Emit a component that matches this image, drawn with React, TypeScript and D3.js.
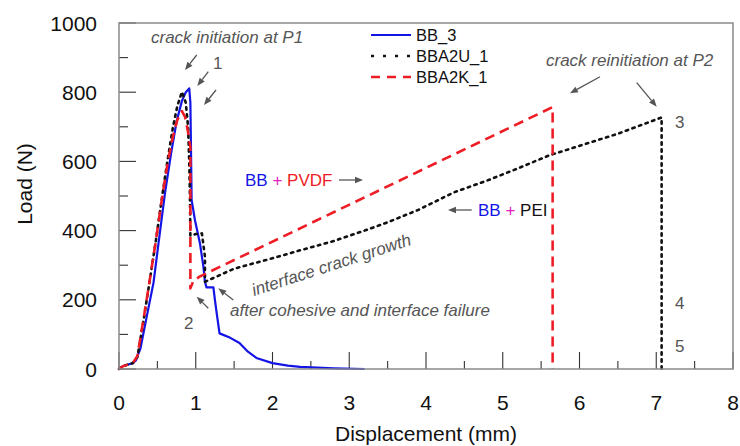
import React from "react";
import * as d3 from "d3";

interface Pt {
  x: number;
  y: number;
}

// displacement (mm), load (N)
const bb3: [number, number][] = [
  [0, 0], [0.05, 8], [0.12, 13], [0.18, 17], [0.22, 25], [0.28, 60], [0.36, 150],
  [0.45, 250], [0.53, 390], [0.6, 510], [0.68, 625], [0.75, 715], [0.82, 775],
  [0.87, 800], [0.915, 811], [0.93, 770], [0.94, 600], [0.946, 489], [0.99, 430],
  [1.055, 363], [1.1, 295], [1.12, 252], [1.14, 236], [1.23, 236], [1.25, 199],
  [1.28, 150], [1.31, 103], [1.45, 90], [1.57, 75], [1.68, 50], [1.79, 32],
  [2.0, 17], [2.2, 10], [2.36, 6], [2.8, 2], [3.2, 0],
];

const bba2u1: [number, number][] = [
  [0, 0], [0.05, 8], [0.12, 13], [0.18, 17], [0.24, 35], [0.32, 140], [0.4, 255],
  [0.48, 370], [0.55, 480], [0.63, 600], [0.7, 695], [0.76, 760], [0.82, 801],
  [0.87, 770], [0.9, 700], [0.915, 600], [0.925, 490], [0.93, 385], [1.0, 390],
  [1.08, 392], [1.12, 324], [1.12, 252], [1.5, 290], [2.0, 320], [2.36, 343],
  [2.8, 370], [3.2, 400], [3.5, 424], [3.9, 460], [4.37, 511], [4.8, 545],
  [5.2, 580], [5.6, 617], [6.0, 645], [6.5, 680], [7.07, 727], [7.07, 0],
];

const bba2k1: [number, number][] = [
  [0, 0], [0.05, 8], [0.12, 13], [0.18, 17], [0.24, 38], [0.32, 145], [0.4, 256],
  [0.48, 370], [0.55, 478], [0.63, 590], [0.7, 670], [0.76, 720], [0.82, 745],
  [0.86, 729], [0.9, 685], [0.93, 640], [0.93, 233], [0.97, 255], [1.05, 267],
  [5.65, 757], [5.65, 0],
];

const xTicks = [0, 1, 2, 3, 4, 5, 6, 7, 8];
const yTicks = [0, 200, 400, 600, 800, 1000];
const xMinor = d3.range(0, 8.01, 0.5);
const yMinor = d3.range(0, 1001, 100);

const seriesNames = ["BB_3", "BBA2U_1", "BBA2K_1"];
const seriesColors = ["#1414e6", "#111111", "#ee1c25"];
const seriesDash = ["none", "2.4 4.6", "10 6"];

const W = 740;
const H = 446;
const m = { left: 119, right: 7, top: 23, bottom: 77 };

const gray = "#555555";
const annoFont = "Liberation Sans, Arial, sans-serif";

const Arrow: React.FC<{ x1: number; y1: number; x2: number; y2: number }> = ({ x1, y1, x2, y2 }) => {
  const a = Math.atan2(y2 - y1, x2 - x1);
  const L = 8;
  const hw = 3.2;
  const bx = x2 - L * Math.cos(a);
  const by = y2 - L * Math.sin(a);
  const px = -Math.sin(a) * hw;
  const py = Math.cos(a) * hw;
  return (
    <g>
      <line x1={x1} y1={y1} x2={bx} y2={by} stroke={gray} strokeWidth={1.3} />
      <path d={`M${x2},${y2}L${bx + px},${by + py}L${bx - px},${by - py}Z`} fill={gray} />
    </g>
  );
};

export default function App() {
  const x = d3.scaleLinear().domain([0, 8]).range([m.left, W - m.right]);
  const y = d3.scaleLinear().domain([0, 1000]).range([H - m.bottom, m.top]);

  const line = d3
    .line<Pt>()
    .x((d) => x(d.x))
    .y((d) => y(d.y));

  const toPts = (arr: [number, number][]) => arr.map(([a, b]) => ({ x: a, y: b }));
  const series = [bb3, bba2u1, bba2k1].map(toPts);
  const drawOrder = [0, 1, 2];

  const x0 = x(0);
  const x1 = x(8);
  const yb = y(0);
  const yt = y(1000);

  return (
    <svg
      width={W}
      height={H}
      style={{ position: "absolute", left: 0, top: 0, background: "#fff" }}
      fontFamily="Liberation Sans, Arial, sans-serif"
    >
      {/* ticks, pointing inward */}
      {xMinor.map((t) => {
        const major = Math.abs(t - Math.round(t)) < 1e-6;
        return (
          <line key={"xt" + t} x1={x(t)} x2={x(t)} y1={yb} y2={yb - (major ? 17 : 8)} stroke="#333" strokeWidth={1.1} />
        );
      })}
      {yMinor.map((t) => {
        const major = t % 200 === 0;
        return (
          <line key={"yt" + t} x1={x0} x2={x0 + (major ? 17 : 9)} y1={y(t)} y2={y(t)} stroke="#333" strokeWidth={1.1} />
        );
      })}

      {/* curves */}
      {drawOrder.map((i) => (
        <path
          key={seriesNames[i]}
          d={line(series[i]) || ""}
          fill="none"
          stroke={seriesColors[i]}
          strokeWidth={i === 0 ? 2.2 : 2.6}
          strokeDasharray={seriesDash[i]}
          strokeLinecap={i === 1 ? "round" : "butt"}
          strokeLinejoin="round"
        />
      ))}

      {/* frame */}
      <rect x={x0} y={yt} width={x1 - x0} height={yb - yt} fill="none" stroke="#8a8a8a" strokeWidth={1.5} />

      {/* tick labels */}
      {xTicks.map((t) => (
        <text key={"xl" + t} x={x(t)} y={402} textAnchor="middle" dominantBaseline="central" fontSize={21} fill="#111">
          {t}
        </text>
      ))}
      {yTicks.map((t) => (
        <text key={"yl" + t} x={97} y={y(t)} textAnchor="end" dominantBaseline="central" fontSize={21} fill="#111">
          {t}
        </text>
      ))}

      {/* axis titles */}
      <text x={(x0 + x1) / 2} y={433} textAnchor="middle" dominantBaseline="central" fontSize={21} fill="#111">
        Displacement (mm)
      </text>
      <text
        transform={`translate(24,${(yt + yb) / 2 - 12}) rotate(-90)`}
        textAnchor="middle"
        dominantBaseline="central"
        fontSize={21}
        fill="#111"
      >
        Load (N)
      </text>

      {/* legend */}
      {seriesNames.map((n, i) => (
        <g key={"lg" + n} transform={`translate(0,${35 + i * 21})`}>
          <line
            x1={371}
            x2={411}
            y1={0}
            y2={0}
            stroke={seriesColors[i]}
            strokeWidth={i === 0 ? 2 : 2.4}
            strokeDasharray={i === 0 ? "none" : i === 1 ? "3 9" : "9 7"}
          />
          <text x={416} y={0} dominantBaseline="central" fontSize={16.5} fill="#111">
            {n}
          </text>
        </g>
      ))}

      {/* annotations */}
      <g fontFamily={annoFont} fontStyle="italic" fill={gray} fontSize={17}>
        <text x={151} y={43}>crack initiation at P1</text>
        <text x={546} y={66}>crack reinitiation at P2</text>
        <text x={230} y={316}>after cohesive and interface failure</text>
        <text transform={`translate(254,296) rotate(-18)`}>interface crack growth</text>
      </g>
      <g fontFamily={annoFont} fill={gray} fontSize={17} dominantBaseline="central">
        <text x={213} y={63}>1</text>
        <text x={184} y={323}>2</text>
        <text x={675} y={122}>3</text>
        <text x={675} y={303}>4</text>
        <text x={675} y={346}>5</text>
      </g>
      <Arrow x1={196.7} y1={55} x2={185} y2={70} />
      <Arrow x1={208.3} y1={71.7} x2={197.3} y2={86} />
      <Arrow x1={216} y1={90} x2={204} y2={105} />
      <Arrow x1={600} y1={76.7} x2={570} y2={93.3} />
      <Arrow x1={636.7} y1={82.7} x2={656.7} y2={106.7} />
      <Arrow x1={208.3} y1={308.3} x2={196.7} y2={296.7} />
      <Arrow x1={233.3} y1={300} x2={218.3} y2={288.3} />
      <Arrow x1={339} y1={180} x2={363} y2={180} />
      <Arrow x1={471.7} y1={210} x2={448} y2={210} />

      <g fontSize={17} dominantBaseline="central">
        <text x={245} y={180}>
          <tspan fill="#1414e6">BB</tspan>
          <tspan fill="#e020c0"> + </tspan>
          <tspan fill="#ee1c25">PVDF</tspan>
        </text>
        <text x={478} y={210}>
          <tspan fill="#1414e6">BB</tspan>
          <tspan fill="#e020c0"> + </tspan>
          <tspan fill="#111">PEI</tspan>
        </text>
      </g>
    </svg>
  );
}
